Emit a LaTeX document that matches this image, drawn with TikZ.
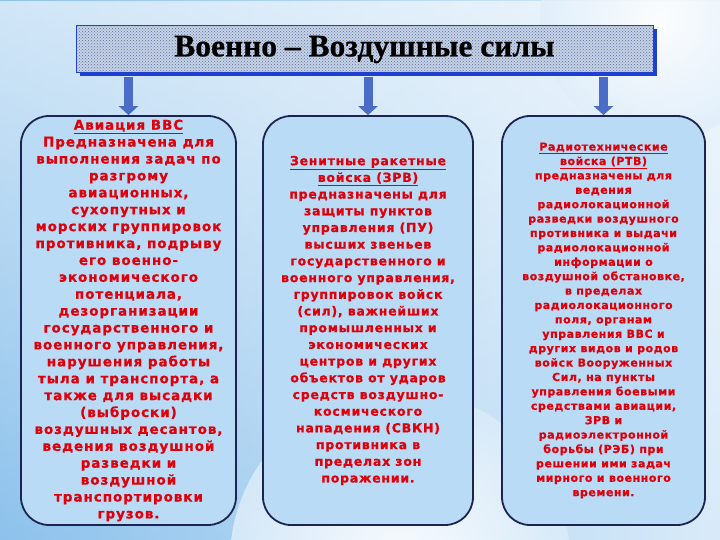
\documentclass[tikz,border=0pt]{standalone}
\usepackage{fontspec}
\setmainfont{DejaVu Sans}
\newfontfamily\titlefont{Liberation Serif}
\usetikzlibrary{arrows.meta, patterns, shadows, fadings}
\definecolor{bgblue}{HTML}{BFDDF5}
\definecolor{bgdeep}{HTML}{8DC2EC}
\definecolor{boxfill}{HTML}{B9DBF6}
\definecolor{boxline}{HTML}{1C2452}
\definecolor{arrowblue}{HTML}{4A6BC6}
\definecolor{txtred}{HTML}{DE000A}
\definecolor{patblue}{HTML}{5A74B2}
\definecolor{titlebg}{HTML}{C6D2E2}
\definecolor{shadowblue}{HTML}{1E3FD0}

\begin{document}
\begin{tikzpicture}[x=1pt, y=-1pt]
\tikzstyle{titlebox}=[drop shadow={shadow xshift=3.5pt, shadow yshift=-3.5pt, fill=shadowblue, opacity=1}, preaction={fill=titlebg}, draw=shadowblue, line width=1pt, pattern=crosshatch dots, pattern color=patblue, minimum width=577pt, minimum height=47pt, inner sep=0pt, font={\titlefont\addfontfeature{FakeBold=0.6}\bfseries\fontsize{31.5}{31.5}\selectfont}]
\tikzstyle{textbox}=[draw=boxline, line width=1.8pt, fill=boxfill, rounded corners=28pt, minimum height=409pt, align=center, text=txtred, inner sep=0pt]
\tikzstyle{fatarrow}=[draw=arrowblue, line width=9pt, -{Triangle[width=19pt, length=9pt]}, arrowblue]

\def \mid {320.5}

\useasboundingbox (0,0) rectangle (720,540);
\shade[left color=bgdeep, right color=bgblue!60!white] (0,0) rectangle (720,540);
\fill[white, opacity=0.6, path fading=south] (0,0) rectangle (720,540);
\shade[inner color=white, outer color=bgblue!60!white, opacity=0.9] (400,560) circle (170);
\shade[inner color=white, outer color=bgblue!50!white, opacity=0.8] (660,20) circle (120);

\node[titlebox] (title) at (364.5, 49.5) {Военно – Воздушные силы};

\node[textbox, minimum width=215pt, font={\addfontfeature{LetterSpace=7,FakeBold=0.8}\bfseries\fontsize{13.5}{16.9}\selectfont}] (avia) at (128.5, \mid)
{\underline{Авиация ВВС}\\Предназначена для\\выполнения задач по\\разгрому\\авиационных,\\сухопутных и\\морских группировок\\противника, подрыву\\его военно-\\экономического\\потенциала,\\дезорганизации\\государственного и\\военного управления,\\нарушения работы\\тыла и транспорта, а\\также для высадки\\(выброски)\\воздушных десантов,\\ведения воздушной\\разведки и\\воздушной\\транспортировки\\грузов.};

\node[textbox, minimum width=210pt, font={\addfontfeature{LetterSpace=6,FakeBold=0.8}\bfseries\fontsize{12.5}{16.7}\selectfont}] (zrv) at (368, \mid)
{\underline{Зенитные ракетные}\\\underline{войска (ЗРВ)}\\предназначены для\\защиты пунктов\\управления (ПУ)\\высших звеньев\\государственного и\\военного управления,\\группировок войск\\(сил), важнейших\\промышленных и\\экономических\\центров и других\\объектов от ударов\\средств воздушно-\\космического\\нападения (СВКН)\\противника в\\пределах зон\\поражении.};

\node[textbox, minimum width=203pt, font={\addfontfeature{LetterSpace=5,FakeBold=0.8}\bfseries\fontsize{11}{14.4}\selectfont}] (rtv) at (603.5, \mid)
{\underline{Радиотехнические}\\\underline{войска (РТВ)}\\предназначены для\\ведения\\радиолокационной\\разведки воздушного\\противника и выдачи\\радиолокационной\\информации о\\воздушной обстановке,\\в пределах\\радиолокационного\\поля, органам\\управления ВВС и\\других видов и родов\\войск Вооруженных\\Сил, на пункты\\управления боевыми\\средствами авиации,\\ЗРВ и\\радиоэлектронной\\борьбы (РЭБ) при\\решении ими задач\\мирного и военного\\времени.};

\path[fatarrow] (title.south -| avia.north) ++(0,3.5) -- (avia.north);
\path[fatarrow] (title.south -| zrv.north) ++(0,3.5) -- (zrv.north);
\path[fatarrow] (title.south -| rtv.north) ++(0,3.5) -- (rtv.north);
\end{tikzpicture}
\end{document}
